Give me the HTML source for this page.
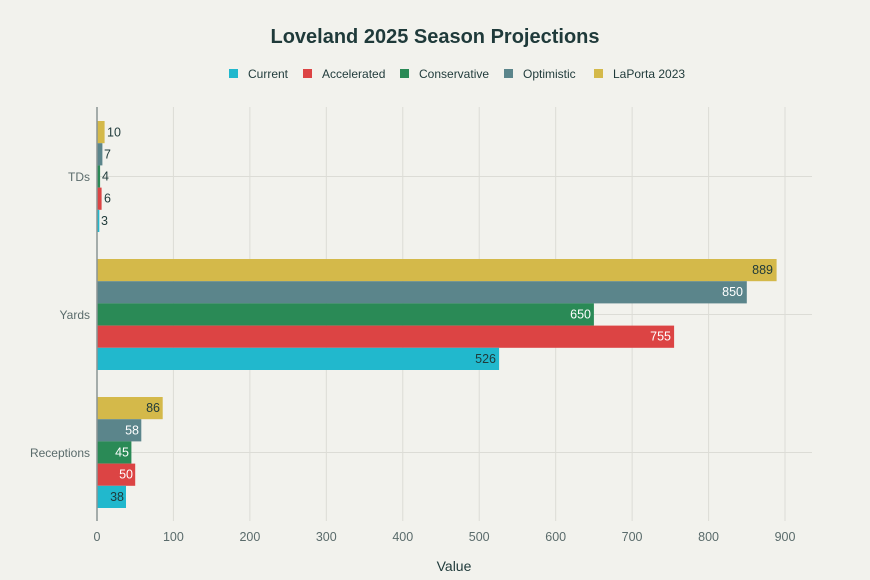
<!DOCTYPE html>
<html><head><meta charset="utf-8"><style>
body{margin:0;background:#f2f2ed;}
svg{display:block;font-family:"Liberation Sans",sans-serif;}
</style></head><body>
<svg width="870" height="580" viewBox="0 0 870 580">
<rect width="870" height="580" fill="#f2f2ed"/>
<text x="435" y="43" text-anchor="middle" font-size="20" font-weight="bold" fill="#1f3a3a">Loveland 2025 Season Projections</text>
<g font-size="12" fill="#1f3a3a">
<rect x="229" y="69" width="9" height="9" fill="#21b8cd"/><text x="248" y="78">Current</text>
<rect x="303" y="69" width="9" height="9" fill="#dc4444"/><text x="322" y="78">Accelerated</text>
<rect x="400" y="69" width="9" height="9" fill="#2a8a56"/><text x="419" y="78">Conservative</text>
<rect x="504" y="69" width="9" height="9" fill="#5b858b"/><text x="523" y="78">Optimistic</text>
<rect x="594" y="69" width="9" height="9" fill="#d4b94a"/><text x="613" y="78">LaPorta 2023</text>
</g>
<g stroke="#dcdcd6" stroke-width="1">
<line x1="173.4" y1="107" x2="173.4" y2="521"/><line x1="249.9" y1="107" x2="249.9" y2="521"/><line x1="326.3" y1="107" x2="326.3" y2="521"/><line x1="402.8" y1="107" x2="402.8" y2="521"/><line x1="479.2" y1="107" x2="479.2" y2="521"/><line x1="555.7" y1="107" x2="555.7" y2="521"/><line x1="632.1" y1="107" x2="632.1" y2="521"/><line x1="708.6" y1="107" x2="708.6" y2="521"/><line x1="785" y1="107" x2="785" y2="521"/>
<line x1="97" y1="176.5" x2="812" y2="176.5"/><line x1="97" y1="314.5" x2="812" y2="314.5"/><line x1="97" y1="452.5" x2="812" y2="452.5"/>
</g>
<g>
<rect x="97" y="121" width="7.6" height="22.2" fill="#d4b94a"/>
<rect x="97" y="143.2" width="5.4" height="22.2" fill="#5b858b"/>
<rect x="97" y="165.4" width="3.1" height="22.2" fill="#2a8a56"/>
<rect x="97" y="187.6" width="4.6" height="22.2" fill="#dc4444"/>
<rect x="97" y="209.8" width="2.3" height="22.2" fill="#21b8cd"/>
<rect x="97" y="259" width="679.6" height="22.2" fill="#d4b94a"/>
<rect x="97" y="281.2" width="649.8" height="22.2" fill="#5b858b"/>
<rect x="97" y="303.4" width="496.9" height="22.2" fill="#2a8a56"/>
<rect x="97" y="325.6" width="577.1" height="22.2" fill="#dc4444"/>
<rect x="97" y="347.8" width="402.1" height="22.2" fill="#21b8cd"/>
<rect x="97" y="397" width="65.7" height="22.2" fill="#d4b94a"/>
<rect x="97" y="419.2" width="44.3" height="22.2" fill="#5b858b"/>
<rect x="97" y="441.4" width="34.4" height="22.2" fill="#2a8a56"/>
<rect x="97" y="463.6" width="38.2" height="22.2" fill="#dc4444"/>
<rect x="97" y="485.8" width="29" height="22.2" fill="#21b8cd"/>
</g>
<line x1="97" y1="107" x2="97" y2="521" stroke="#8a9494" stroke-width="1.5"/>
<g font-size="12.5" fill="#1f3a3a">
<text x="107" y="136.5">10</text><text x="104" y="158.5">7</text><text x="102" y="180.5">4</text><text x="104" y="202.5">6</text><text x="101" y="225">3</text>
</g>
<g font-size="12.5" text-anchor="end">
<text x="773" y="274" fill="#1f3a3a">889</text>
<text x="743" y="296" fill="#fff">850</text>
<text x="591" y="318.5" fill="#fff">650</text>
<text x="671" y="340.5" fill="#fff">755</text>
<text x="496" y="363" fill="#1f3a3a">526</text>
<text x="160" y="412" fill="#1f3a3a">86</text>
<text x="139" y="434.5" fill="#fff">58</text>
<text x="129" y="456.5" fill="#fff">45</text>
<text x="133" y="478.5" fill="#fff">50</text>
<text x="124" y="501" fill="#1f3a3a">38</text>
</g>
<g font-size="12" fill="#5a6b6b" text-anchor="end">
<text x="90" y="181">TDs</text><text x="90" y="319">Yards</text><text x="90" y="457">Receptions</text>
</g>
<g font-size="12.5" fill="#5a6b6b" text-anchor="middle">
<text x="97" y="541">0</text><text x="173.4" y="541">100</text><text x="249.9" y="541">200</text><text x="326.3" y="541">300</text><text x="402.8" y="541">400</text><text x="479.2" y="541">500</text><text x="555.7" y="541">600</text><text x="632.1" y="541">700</text><text x="708.6" y="541">800</text><text x="785" y="541">900</text>
</g>
<text x="454" y="571" text-anchor="middle" font-size="14" fill="#1f3a3a">Value</text>
</svg>
</body></html>
